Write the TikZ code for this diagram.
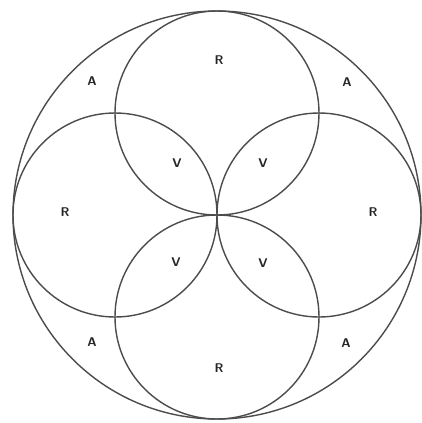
\documentclass[tikz,border=0pt]{standalone}
\usetikzlibrary{positioning}

\begin{document}
\begin{tikzpicture}[
    x=0.025cm, y=-0.025cm,
    ring style/.style={
        draw=black!70,
        line width=1pt
    },
    label style/.style={
        font=\sffamily\bfseries\small,
        text=black!85,
        inner sep=0pt
    }
]

% Canvas
\useasboundingbox (0,0) rectangle (422,423);

% Radii
\def\bigradius{204}
\def\smallradius{102}

% Centres
\coordinate (O) at (217,215);
\coordinate (Ctop) at (217,113);
\coordinate (Cleft) at (115,215);
\coordinate (Cright) at (319,215);
\coordinate (Cbottom) at (217,317);

% Outer circle
\draw[ring style] (O) circle[radius=\bigradius];

% Inner circles
\foreach \c in {Ctop, Cleft, Cright, Cbottom}
    \draw[ring style] (\c) circle[radius=\smallradius];

% R labels
\node[label style] (Rtop) at (219,60) {R};
\node[label style] (Rleft) at (65,212) {R};
\node[label style] (Rright) at (373,212) {R};
\node[label style] (Rbottom) at (219,368) {R};

% A labels
\node[label style] (Atl) at (92,81) {A};
\node[label style] (Atr) at (347,82) {A};
\node[label style] (Abl) at (92,342) {A};
\node[label style] (Abr) at (346,343) {A};

% V labels
\node[label style] (Vtl) at (177,163) {V};
\node[label style] (Vtr) at (263,163) {V};
\node[label style] (Vbl) at (176,262) {V};
\node[label style] (Vbr) at (263,263) {V};

\end{tikzpicture}
\end{document}
